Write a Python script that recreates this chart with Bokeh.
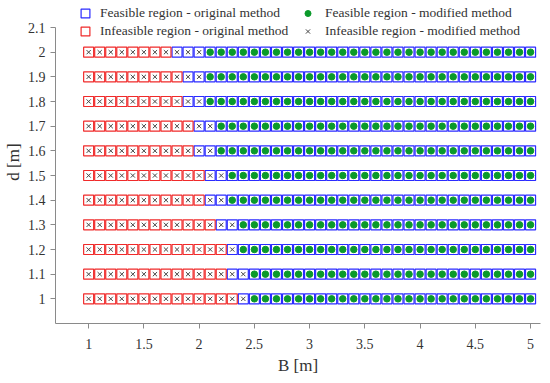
from bokeh.plotting import figure
from bokeh.models import (Range1d, FixedTicker, CustomJSTickFormatter, Legend, LegendItem)
from bokeh.embed import file_html
from bokeh.resources import INLINE

# grid of breadths B [m] and depths d [m]
B_vals = [1.0, 1.1, 1.2, 1.3, 1.4, 1.5, 1.6, 1.7, 1.8, 1.9, 2.0, 2.1, 2.2, 2.3, 2.4, 2.5,
          2.6, 2.7, 2.8, 2.9, 3.0, 3.1, 3.2, 3.3, 3.4, 3.5, 3.6, 3.7, 3.8, 3.9, 4.0, 4.1,
          4.2, 4.3, 4.4, 4.5, 4.6, 4.7, 4.8, 4.9, 5.0]
d_vals = [1.0, 1.1, 1.2, 1.3, 1.4, 1.5, 1.6, 1.7, 1.8, 1.9, 2.0]
# smallest feasible B for each d
Bmin_original = [2.4, 2.3, 2.3, 2.2, 2.1, 2.1, 2.0, 2.0, 1.9, 1.9, 1.8]
Bmin_modified = [2.5, 2.5, 2.4, 2.4, 2.3, 2.3, 2.2, 2.2, 2.1, 2.1, 2.1]

x_ticks = [1, 1.5, 2, 2.5, 3, 3.5, 4, 4.5, 5]
y_ticks = [1, 1.1, 1.2, 1.3, 1.4, 1.5, 1.6, 1.7, 1.8, 1.9, 2, 2.1]

fo_x, fo_y, io_x, io_y, fm_x, fm_y, im_x, im_y = [], [], [], [], [], [], [], []
for j, d in enumerate(d_vals):
    for b in B_vals:
        if b >= Bmin_original[j] - 1e-9:
            fo_x.append(b); fo_y.append(d)
        else:
            io_x.append(b); io_y.append(d)
        if b >= Bmin_modified[j] - 1e-9:
            fm_x.append(b); fm_y.append(d)
        else:
            im_x.append(b); im_y.append(d)

FONT = "'Liberation Serif', 'DejaVu Serif', serif"
BLUE = "#2b2bff"
RED = "#f02a2a"
GREEN = "#0a9a2a"

# frame extends above d = 2.1 so the legend fits inside it; the axis stops at 2.1
p = figure(frame_width=485, frame_height=323, output_backend="svg", toolbar_location=None,
           x_range=Range1d(0.7, 5.09), y_range=Range1d(0.9, 2.2095),
           min_border_left=47, min_border_right=2, min_border_top=0, min_border_bottom=50)
p.outline_line_color = None
p.grid.visible = False
p.background_fill_color = "white"

r_fo = p.scatter(fo_x, fo_y, marker="square", size=10, fill_color=None, line_color=BLUE, line_width=1.2)
r_io = p.scatter(io_x, io_y, marker="square", size=10, fill_color=None, line_color=RED, line_width=1.2)
r_fm = p.scatter(fm_x, fm_y, marker="circle", size=6.5, fill_color=GREEN, line_color=GREEN)
r_im = p.scatter(im_x, im_y, marker="x", size=6, line_color="#444444", line_width=1)

fmt = CustomJSTickFormatter(code="return String(Math.round(tick*10)/10);")
for ax, ticks in ((p.xaxis[0], x_ticks), (p.yaxis[0], y_ticks)):
    ax.ticker = FixedTicker(ticks=ticks)
    ax.formatter = fmt
    ax.minor_tick_line_color = None
    ax.major_tick_out = 5
    ax.major_tick_in = 0
    ax.axis_line_color = "#8a8a8a"
    ax.major_tick_line_color = "#8a8a8a"
    ax.major_label_text_font = FONT
    ax.major_label_text_font_size = "14px"
    ax.major_label_text_color = "#333333"
    ax.axis_label_text_font = FONT
    ax.axis_label_text_font_size = "17px"
    ax.axis_label_text_font_style = "normal"
    ax.axis_label_text_color = "#333333"

p.yaxis.bounds = (0.9, 2.1)
p.xaxis.major_label_standoff = 10
p.yaxis.major_label_standoff = 5
p.xaxis.axis_label = "B [m]"
p.yaxis.axis_label = "d [m]"
p.xaxis.axis_label_standoff = 4
p.yaxis.axis_label_standoff = 2

def make_legend(label, renderer, loc, gw, standoff):
    return Legend(items=[LegendItem(label=label, renderers=[renderer])], location=loc,
                  orientation="vertical", background_fill_alpha=0, border_line_alpha=0,
                  padding=0, margin=0, spacing=0, glyph_width=gw, glyph_height=22,
                  label_height=22, label_standoff=standoff,
                  label_text_font=FONT, label_text_font_size="13.5px", label_text_color="#333333")

p.add_layout(make_legend("Feasible region - original method", r_fo, (19, 299), 22, 4), "center")
p.add_layout(make_legend("Infeasible region - original method", r_io, (19, 281), 22, 4), "center")
p.add_layout(make_legend("Feasible region - modified method", r_fm, (245, 299), 15, 10), "center")
p.add_layout(make_legend("Infeasible region - modified method", r_im, (245, 281), 15, 10), "center")

open("out.html", "w").write(file_html(p, INLINE))
